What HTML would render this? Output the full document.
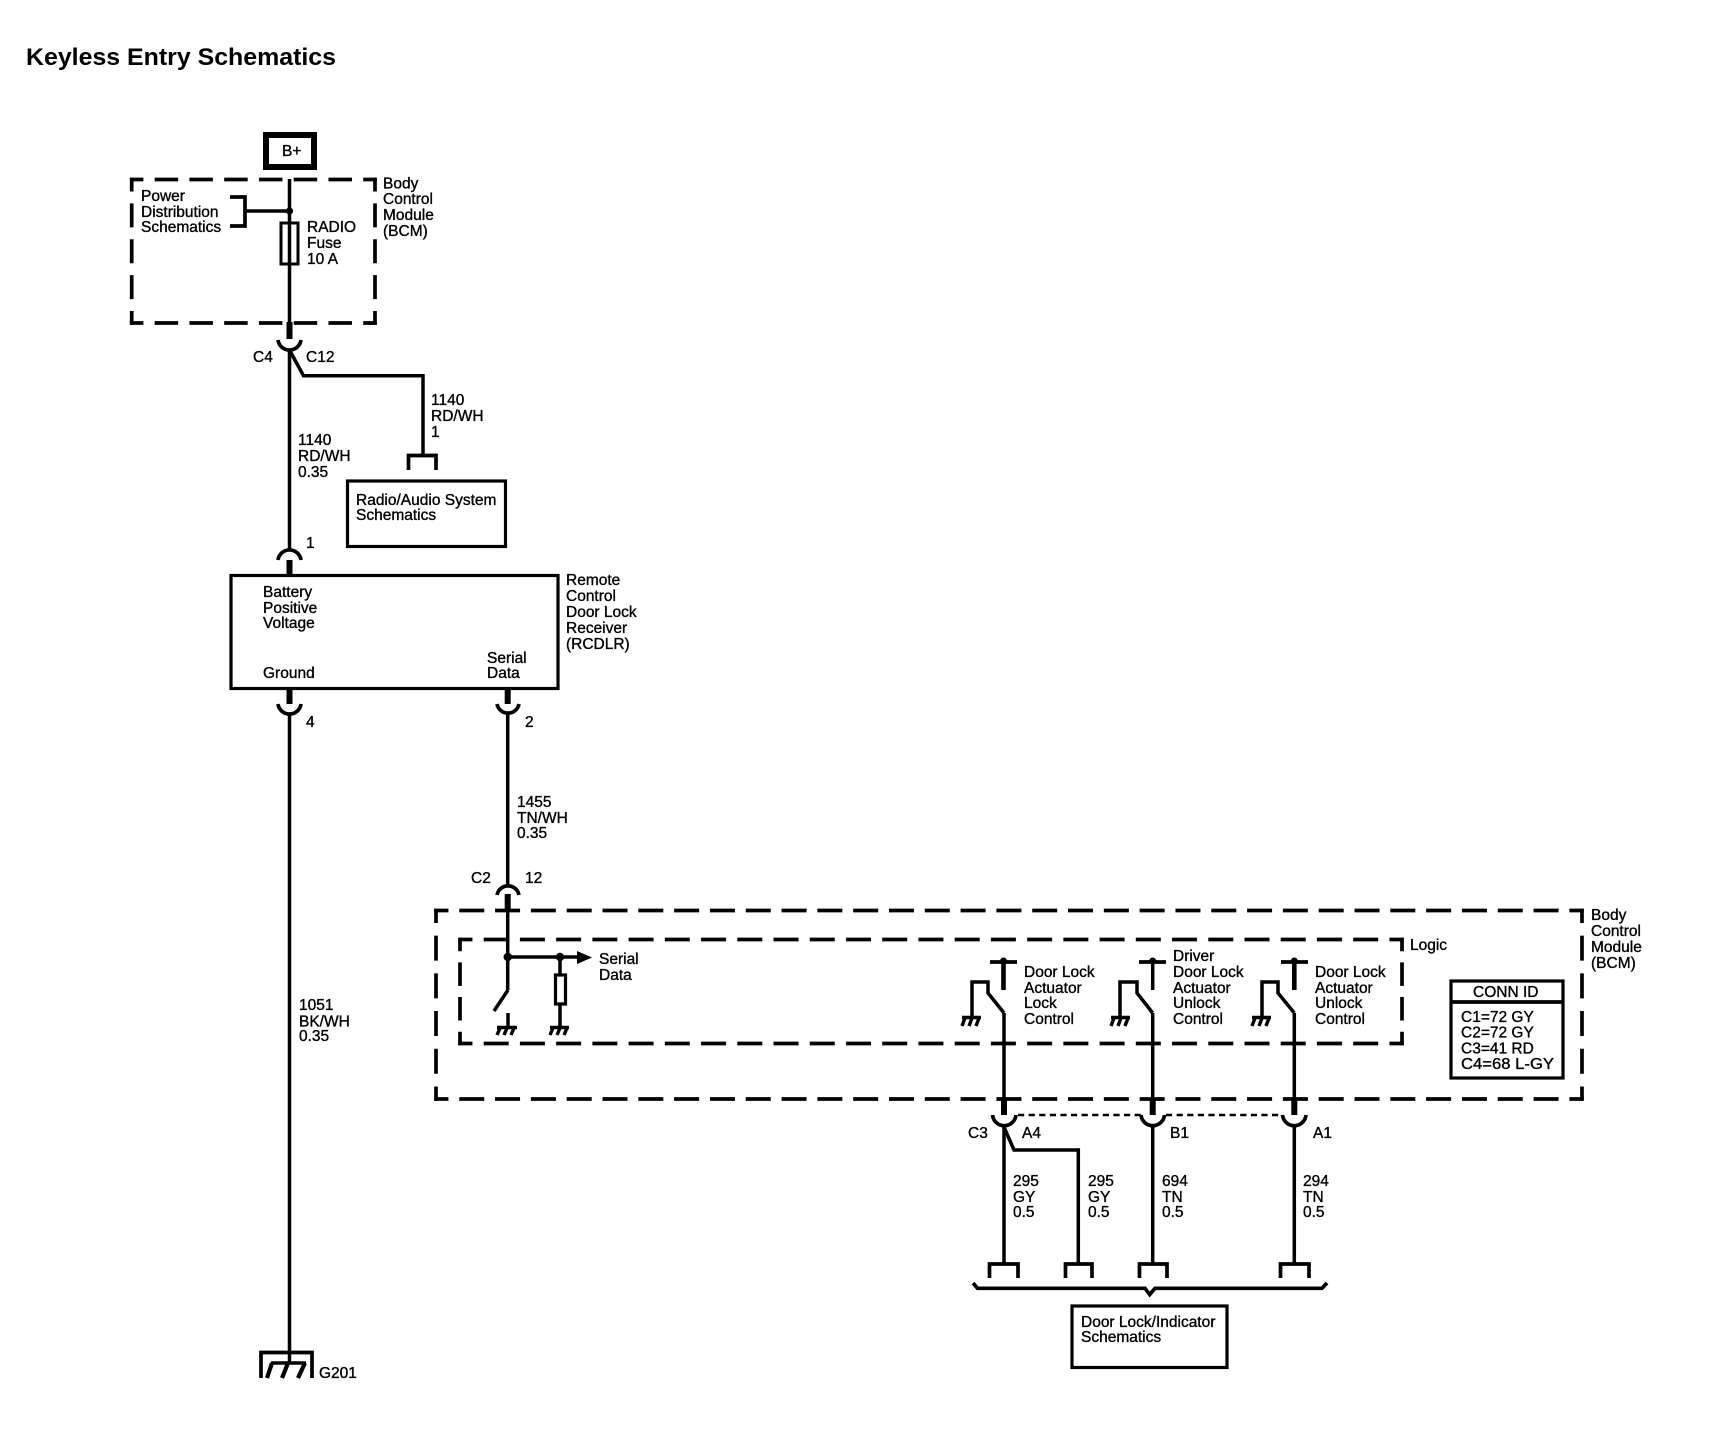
<!DOCTYPE html>
<html lang="en">
<head>
<meta charset="utf-8">
<title>Keyless Entry Schematics</title>
<style>
html,body{margin:0;padding:0;background:#fff;}
svg{display:block;}
text{font-family:"Liberation Sans",sans-serif;font-size:15.5px;fill:#000;stroke:#000;stroke-width:.35px;}
.t{font-size:24px;font-weight:bold;stroke:none;}
.w{fill:none;stroke:#000;stroke-width:3.5;}
.k{fill:none;stroke:#000;stroke-width:3.7;}
.h{fill:none;stroke:#000;stroke-width:6;}
.g{fill:none;stroke:#000;stroke-width:3.4;}
</style>
</head>
<body>
<svg width="1726" height="1440" viewBox="0 0 1726 1440" xmlns="http://www.w3.org/2000/svg">
<rect width="1726" height="1440" fill="#fff"/>
<text class="t" x="26" y="65" textLength="310" lengthAdjust="spacingAndGlyphs">Keyless Entry Schematics</text>

<!-- B+ -->
<rect x="266" y="135" width="48" height="32" fill="none" stroke="#000" stroke-width="6"/>
<text x="282" y="156">B+</text>

<!-- top BCM dashed box -->
<g class="k" stroke-dasharray="23.5 11.26" stroke-dashoffset="10">
<path d="M129.9 179.5H376.8"/><path d="M129.9 323H376.8"/>
</g>
<g class="k" stroke-dasharray="24 11.9" stroke-dashoffset="10.25">
<path d="M131.7 177.7V324.8"/><path d="M375 177.7V324.8"/>
</g>
<text x="383" y="188.5">Body</text><text x="383" y="204">Control</text><text x="383" y="220">Module</text><text x="383" y="236">(BCM)</text>
<text x="141" y="201">Power</text><text x="141" y="217">Distribution</text><text x="141" y="232">Schematics</text>
<path class="k" d="M230 197H245V226H230"/>
<path class="w" d="M245 211H289.5"/>
<circle cx="289.5" cy="211" r="3.6"/>
<path class="w" d="M289.5 179V222M289.5 264V324"/>
<rect x="281" y="223" width="17" height="41" fill="#fff" stroke="#000" stroke-width="3"/>
<path class="w" d="M289.5 223V264"/>
<text x="307" y="232">RADIO</text><text x="307" y="248">Fuse</text><text x="307" y="264">10 A</text>

<!-- C4/C12 -->
<path class="h" d="M289.5 322V339"/>
<path class="k" d="M278 340A11.6 11.6 0 0 0 301 340"/>
<path class="w" d="M289.5 349V550"/>
<path class="w" d="M289.5 350L303.5 375.7H423V455"/>
<path class="k" d="M408.5 470V455.5H436V470"/>
<text x="253" y="362">C4</text><text x="306" y="362">C12</text>
<text x="431" y="405">1140</text><text x="431" y="421">RD/WH</text><text x="431" y="437">1</text>
<text x="298" y="445">1140</text><text x="298" y="461">RD/WH</text><text x="298" y="477">0.35</text>

<!-- Radio box -->
<rect x="347.5" y="481" width="158" height="65.5" fill="none" stroke="#000" stroke-width="3.2"/>
<text x="356" y="505">Radio/Audio System</text><text x="356" y="520">Schematics</text>

<!-- pin 1 -->
<path class="k" d="M278 560A11.6 11.6 0 0 1 301 560"/>
<path class="h" d="M289.5 560V575"/>
<text x="306" y="548">1</text>

<!-- RCDLR -->
<rect x="231" y="575.5" width="327" height="113" fill="none" stroke="#000" stroke-width="3.2"/>
<text x="263" y="597">Battery</text><text x="263" y="613">Positive</text><text x="263" y="628">Voltage</text>
<text x="263" y="678">Ground</text>
<text x="487" y="663">Serial</text><text x="487" y="678">Data</text>
<text x="566" y="585">Remote</text><text x="566" y="601">Control</text><text x="566" y="617">Door Lock</text><text x="566" y="633">Receiver</text><text x="566" y="649">(RCDLR)</text>

<!-- pin 4, 2 -->
<path class="h" d="M289.5 689V704"/>
<path class="k" d="M278 704A11.6 11.6 0 0 0 301 704"/>
<path class="w" d="M289.5 713V1362"/>
<text x="306" y="727">4</text>
<path class="h" d="M507.7 689V704"/>
<path class="k" d="M497 704A11.2 11.2 0 0 0 519 704"/>
<path class="w" d="M507.7 713V884"/>
<text x="525" y="727">2</text>
<text x="517" y="807">1455</text><text x="517" y="823">TN/WH</text><text x="517" y="838">0.35</text>
<text x="471" y="883">C2</text><text x="525" y="883">12</text>
<path class="k" d="M497 895A11.2 11.2 0 0 1 519 895"/>
<path class="h" d="M507.7 894V912"/>
<text x="299" y="1010">1051</text><text x="299" y="1026.5">BK/WH</text><text x="299" y="1041">0.35</text>

<!-- G201 -->
<path class="k" d="M261 1378V1352.5H312V1378"/>
<path class="w" d="M271 1363H306"/>
<path stroke="#000" stroke-width="4.2" fill="none" d="M272 1363L267 1378M288 1363L282 1378M305 1363L298 1378"/>
<text x="319" y="1378">G201</text>

<!-- main BCM dashed box -->
<g class="k" stroke-dasharray="25 10.81" stroke-dashoffset="10.75">
<path d="M434.2 910.5H1583.8"/><path d="M434.2 1099H1583.8"/>
</g>
<g class="k" stroke-dasharray="25 12.7" stroke-dashoffset="10.75">
<path d="M436 908.7V1100.8"/><path d="M1582 908.7V1100.8"/>
</g>
<text x="1591" y="920">Body</text><text x="1591" y="936">Control</text><text x="1591" y="952">Module</text><text x="1591" y="968">(BCM)</text>

<!-- logic dashed box -->
<g class="k" stroke-dasharray="25 11.23" stroke-dashoffset="10.75">
<path d="M458.2 939.5H1403.8"/><path d="M458.2 1043.5H1403.8"/>
</g>
<g class="k" stroke-dasharray="23.5 11.17" stroke-dashoffset="10">
<path d="M460 937.7V1045.3"/><path d="M1402 937.7V1045.3"/>
</g>
<text x="1410" y="950">Logic</text>

<!-- serial data input -->
<path class="w" d="M507.7 912V990"/>
<path class="w" d="M507.7 957H580"/>
<circle cx="507.7" cy="957" r="4.2"/><circle cx="560" cy="957" r="4.2"/>
<path d="M577 951L592 957.5L577 964Z"/>
<path class="w" d="M560 957V974M560 1005V1027"/>
<rect x="555.5" y="975" width="10" height="29" fill="#fff" stroke="#000" stroke-width="3.2"/>
<path class="w" d="M508 990L494 1011"/>
<path class="w" d="M508 1013V1027"/>
<text x="599" y="964">Serial</text><text x="599" y="980">Data</text>
<path class="g" d="M497 1027.5H517M500 1028L497 1035M507 1028L504 1035M514 1028L511 1035"/>
<path class="g" d="M550 1027.5H569M553 1028L550 1035M560 1028L557 1035M567 1028L564 1035"/>

<!-- switch 1 -->
<path class="k" d="M990 962H1017"/>
<circle cx="1003.5" cy="961" r="3.5"/>
<path stroke="#000" stroke-width="4.6" d="M1003.5 960V990"/>
<path class="w" d="M1004 1013V1100"/>
<path class="w" d="M1004 1013L988 993V982H972V1017"/>
<path class="g" d="M962 1017.5H981M965 1018L962 1026M972 1018L969 1026M979 1018L976 1026"/>
<text x="1024" y="977">Door Lock</text><text x="1024" y="993">Actuator</text><text x="1024" y="1008">Lock</text><text x="1024" y="1024">Control</text>

<!-- switch 2 -->
<path class="k" d="M1139 962H1166"/>
<circle cx="1152.7" cy="961" r="3.5"/>
<path class="w" d="M1152.7 960V990"/>
<path class="w" d="M1152.7 1013V1100"/>
<path class="w" d="M1152.7 1013L1137 993V982H1120V1017"/>
<path class="g" d="M1111 1017.5H1130M1114 1018L1111 1026M1121 1018L1118 1026M1128 1018L1125 1026"/>
<text x="1173" y="961">Driver</text><text x="1173" y="977">Door Lock</text><text x="1173" y="993">Actuator</text><text x="1173" y="1008">Unlock</text><text x="1173" y="1024">Control</text>

<!-- switch 3 -->
<path class="k" d="M1281 962H1308"/>
<circle cx="1294.3" cy="961" r="3.5"/>
<path stroke="#000" stroke-width="4.6" d="M1294.3 960V990"/>
<path class="w" d="M1294.3 1013V1100"/>
<path class="w" d="M1294.3 1013L1278 993V982H1262V1017"/>
<path class="g" d="M1252 1017.5H1271M1255 1018L1252 1026M1262 1018L1259 1026M1269 1018L1266 1026"/>
<text x="1315" y="977">Door Lock</text><text x="1315" y="993">Actuator</text><text x="1315" y="1008">Unlock</text><text x="1315" y="1024">Control</text>

<!-- conn id -->
<rect x="1451" y="981" width="112" height="97" fill="#fff" stroke="#000" stroke-width="3.2"/>
<path class="k" d="M1451 1002H1563"/>
<text x="1473" y="997">CONN ID</text>
<text x="1461" y="1022">C1=72 GY</text><text x="1461" y="1037.5">C2=72 GY</text><text x="1461" y="1053.5">C3=41 RD</text><text x="1461" y="1069" textLength="93" lengthAdjust="spacingAndGlyphs">C4=68 L-GY</text>

<!-- C3 connectors -->
<path class="h" d="M1004 1099V1115M1152.7 1099V1115M1294.3 1099V1115"/>
<path class="k" d="M992.5 1115A11.8 11.8 0 0 0 1016 1115M1141 1115A11.8 11.8 0 0 0 1164.5 1115M1282.5 1115A11.8 11.8 0 0 0 1306 1115"/>
<path stroke="#000" stroke-width="2.6" fill="none" stroke-dasharray="6.2 4.4" d="M1018 1115H1141M1166 1115H1282"/>
<text x="968" y="1138">C3</text><text x="1022" y="1138">A4</text><text x="1170" y="1138">B1</text><text x="1313" y="1138">A1</text>

<path class="w" d="M1004 1124V1264M1152.7 1124V1264M1294.3 1124V1264"/>
<path class="w" d="M1004 1127L1014 1150H1078.3V1264"/>
<text x="1013" y="1186">295</text><text x="1013" y="1202">GY</text><text x="1013" y="1217">0.5</text>
<text x="1088" y="1186">295</text><text x="1088" y="1202">GY</text><text x="1088" y="1217">0.5</text>
<text x="1162" y="1186">694</text><text x="1162" y="1202">TN</text><text x="1162" y="1217">0.5</text>
<text x="1303" y="1186">294</text><text x="1303" y="1202">TN</text><text x="1303" y="1217">0.5</text>

<path class="k" d="M989.5 1278V1264H1018V1278"/>
<path class="k" d="M1065.5 1278V1264H1092V1278"/>
<path class="k" d="M1139.5 1278V1264H1167V1278"/>
<path class="k" d="M1280.5 1278V1264H1309V1278"/>
<path class="k" d="M973 1283L977.5 1288.3H1145L1149.7 1294.5L1155 1288.3H1322L1327 1283"/>

<rect x="1072" y="1306" width="155" height="61.5" fill="none" stroke="#000" stroke-width="3.2"/>
<text x="1081" y="1327">Door Lock/Indicator</text><text x="1081" y="1342">Schematics</text>
</svg>
</body>
</html>
